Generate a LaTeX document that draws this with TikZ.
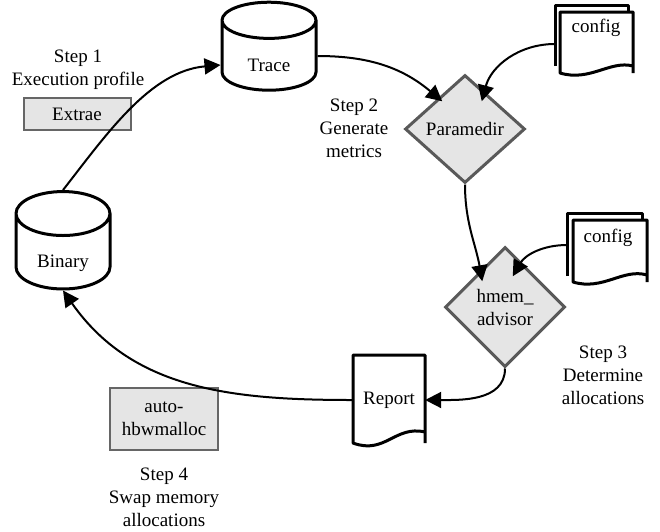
\documentclass[tikz,border=0pt]{standalone}
\usepackage{fontspec}
\setmainfont{Liberation Serif}
\newfontfamily\tnr{Liberation Serif}
\usetikzlibrary{shapes.geometric,arrows.meta,calc}

\begin{document}
\begin{tikzpicture}[x=1pt,y=-1pt,
    every node/.style={font=\tnr\fontsize{19}{23}\selectfont, align=center},
    store/.style={cylinder, shape border rotate=90, draw=black, line width=3pt,
        aspect=0.85, minimum width=94pt, minimum height=88pt, inner sep=0pt,
        text height=30pt, text depth=0pt},
    tool/.style={rectangle, draw=black!60, fill=gray!20, line width=2pt},
    stage/.style={diamond, draw=black!65, fill=gray!20, line width=3pt,
        inner sep=0pt, aspect=1},
    page/.style={draw=black, line width=3pt, fill=white, line join=round},
    link/.style={draw=black, line width=2pt, -{Triangle[length=16pt,width=16pt]}}]
    \def\W{120}
    \useasboundingbox (0,0) rectangle (660,531);

    % data stores
    \node[store] (trace) at (269,56) {Trace};
    \node[store] (binary) at (63,252) {Binary};

    % tools
    \node[tool, minimum width=107pt, minimum height=32pt] (extrae) at (77,114) {Extrae};
    \node[tool, minimum width=108pt, minimum height=62pt] (autohbw) at (164,419)
        {auto-\\hbwmalloc};
    \node[stage, minimum width=\W pt, minimum height=108pt] (paramedir) at (465,129) {Paramedir};
    \node[stage, minimum width=\W pt, minimum height=120pt] (hmem) at (505,307) {hmem\_\\advisor};

    % report document
    \node[minimum width=72pt, minimum height=90pt, inner sep=0pt] (report) at (389,400) {};
    \draw[page] (425,443) -- (425,355) -- (353,355) -- (353,443)
        .. controls (385,455) and (395,425) .. (425,432);
    \node (reporttxt) at (389,400) {Report};

    % config files (two pages each)
    \draw[page] (555,66) -- (555,5) -- (628,5) -- (628,12);
    \draw[page] (633,73) -- (633,12) -- (560,12) -- (560,73)
        .. controls (590,82) and (610,60) .. (633,66);
    \node (cfga) at (596,28) {config};
    \coordinate (cfga-in) at (555,44);

    \draw[page] (567,276) -- (567,213) -- (642,213) -- (642,220);
    \draw[page] (647,282) -- (647,220) -- (573,220) -- (573,282)
        .. controls (603,291) and (623,268) .. (647,275);
    \node (cfgb) at (608,238) {config};
    \coordinate (cfgb-in) at (567,245);

    % step labels
    \node (stepa) at (78,70) {Step 1\\Execution profile};
    \node (stepb) at (354,128) {Step 2\\Generate\\metrics};
    \node (stepc) at (603,375) {Step 3\\Determine\\allocations};
    \node (stepd) at (164,497) {Step 4\\Swap memory\\allocations};

    % workflow
    \draw[link] (binary.north) to[out=52, in=185, looseness=0.9] ([yshift=-9pt]trace.west);
    \draw[link] (trace.east) to[out=0, in=140] ([xshift=8pt]paramedir.north west);
    \draw[link] (cfga-in) to[out=180, in=75] ([xshift=-14pt]paramedir.north east);
    \draw[link] (paramedir.south) to[out=-90, in=100] ([xshift=8pt,yshift=-5pt]hmem.north west);
    \draw[link] (cfgb-in) to[out=180, in=60] ([xshift=-23pt]hmem.north east);
    \draw[link] (hmem.south) to[out=-90, in=0] (report.east);
    \draw[link] (report.west) to[out=180, in=-55] (binary.south);

\end{tikzpicture}
\end{document}
